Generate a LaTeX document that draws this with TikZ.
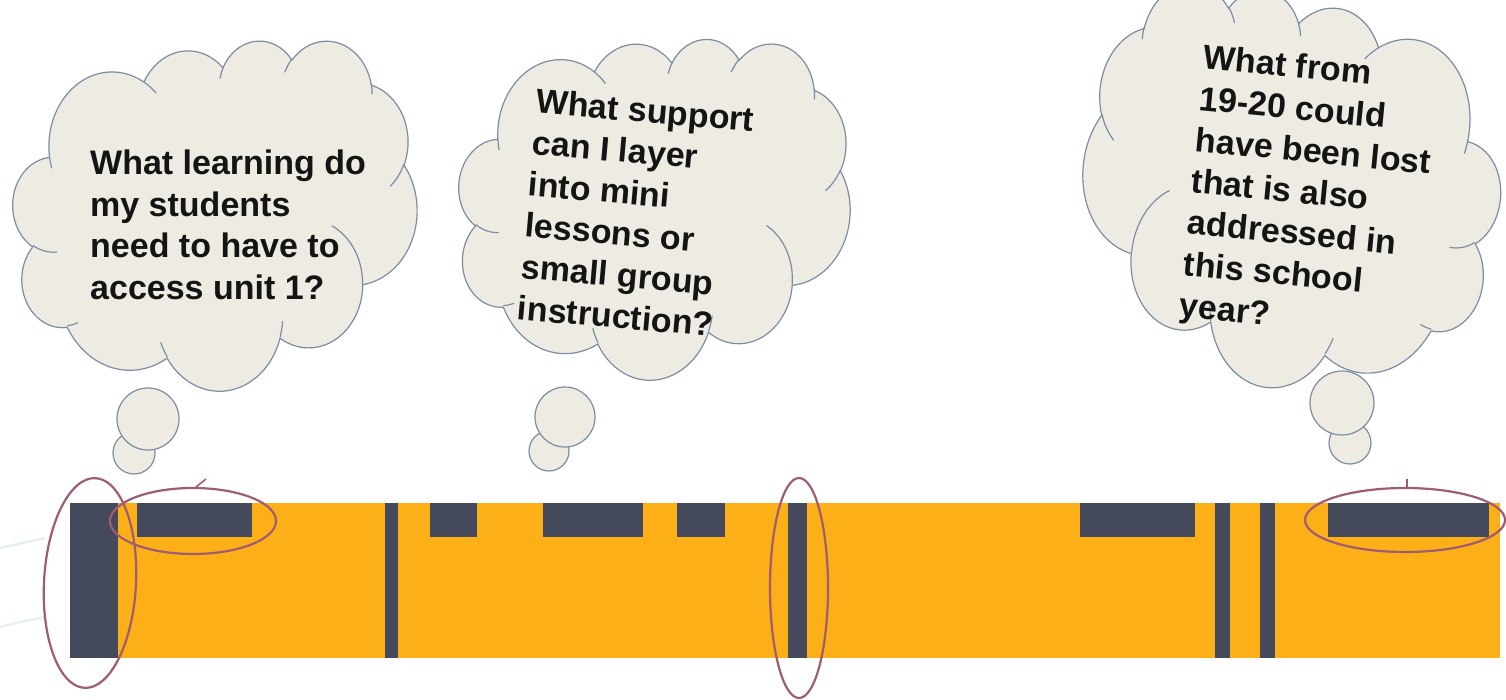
\documentclass[tikz,border=0pt]{standalone}
\usepackage{fontspec}
\setmainfont{Liberation Sans}
\definecolor{barorange}{RGB}{253,175,24}
\definecolor{bardark}{RGB}{68,73,92}
\definecolor{ringcol}{RGB}{160,92,112}
\definecolor{cloudfill}{RGB}{238,236,226}
\definecolor{cloudedge}{RGB}{124,140,164}
\definecolor{faint}{RGB}{230,239,243}
\tikzset{
  cloudsty/.style={fill=cloudfill, draw=cloudedge, line width=1.2pt, line join=round},
  cloudline/.style={draw=cloudedge, line width=1.2pt, line cap=round},
  bubble/.style={fill=cloudfill, draw=cloudedge, line width=1.2pt},
  qtext/.style={font=\fontsize{34}{41.5}\selectfont\bfseries, align=left, inner sep=0pt, text=black!92},
  darkblock/.style={fill=bardark},
  ring/.style={draw=ringcol, line width=2.2pt},
}
\newcommand\pptcloud[1]{%
  \begin{scope}[#1]
    \path[cloudsty] (9.028,33.264)
      arc[start angle=172.25, end angle=300.36, x radius=15.632, y radius=21.273]
      arc[start angle=-152.02, end angle=-45.45, x radius=12.345, y radius=16.822]
      arc[start angle=-153.50, end angle=-37.35, x radius=10.104, y radius=13.762]
      arc[start angle=-139.69, end angle=-10.21, x radius=11.243, y radius=15.266]
      arc[start angle=-74.77, end angle=23.21, x radius=12.345, y radius=16.836]
      arc[start angle=-37.51, end angle=81.86, x radius=15.683, y radius=21.343]
      arc[start angle=0.46, end angle=121.97, x radius=13.391, y radius=18.211]
      arc[start angle=16.84, end angle=146.23, x radius=15.630, y radius=21.331]
      arc[start angle=58.98, end angle=150.20, x radius=17.870, y radius=24.405]
      arc[start angle=83.31, end angle=223.11, x radius=10.093, y radius=13.699]
      arc[start angle=120.36, end angle=264.11, x radius=10.058, y radius=13.762]
      -- cycle;
    \path[cloudline]
      (10.863,60.595) arc[start angle=85.55, end angle=120.36, x radius=10.058, y radius=13.762]
      (16.037,80.785) arc[start angle=68.24, end angle=83.31, x radius=10.093, y radius=13.699]
      (38.144,90.486) arc[start angle=146.23, end angle=158.47, x radius=15.630, y radius=21.331]
      (66.729,80.442) arc[start angle=4.74, end angle=16.84, x radius=15.630, y radius=21.331]
      (79.002,53.134) arc[start angle=-64.03, end angle=0.46, x radius=13.391, y radius=18.211]
      (96.755,35.542) arc[start angle=23.21, end angle=49.66, x radius=12.345, y radius=16.836]
      (88.713,12.560) arc[start angle=-10.21, end angle=0.82, x radius=11.243, y radius=15.266]
      (67.310,9.148) arc[start angle=-156.29, end angle=-139.69, x radius=11.243, y radius=15.266]
      (51.252,10.926) arc[start angle=-167.73, end angle=-153.50, x radius=10.104, y radius=13.762]
      (32.407,12.019) arc[start angle=-59.64, end angle=-45.73, x radius=15.632, y radius=21.273]
      (9.553,36.549) arc[start angle=163.20, end angle=172.25, x radius=15.632, y radius=21.273];
  \end{scope}}
\begin{document}
\begin{tikzpicture}[x=1pt, y=-1pt]
  \useasboundingbox (0,0) rectangle (1506,700);
  \clip (0,0) rectangle (1506,700);
  \fill[white] (0,0) rectangle (1506,700);

  % faint background strokes at the far left
  \draw[faint, line width=2.5pt] (0,548) .. controls (15,545) and (30,541) .. (45,538);
  \draw[faint, line width=2.5pt] (0,627) .. controls (15,623) and (30,620) .. (45,617);

  % clouds
  \pptcloud{shift={(215,215)}, x=4.04pt, y=-3.5pt, shift={(-50,-50)}}
  \pptcloud{shift={(654,207)}, rotate=-4, x=3.92pt, y=-3.44pt, shift={(-50,-50)}}
  \pptcloud{shift={(1291,190)}, rotate=-5.5, x=-4.18pt, y=-3.95pt, shift={(-50,-50)}}

  % thought bubbles
  \draw[bubble] (134,453) circle[radius=21];
  \draw[bubble] (148,419) circle[radius=31];
  \draw[bubble] (549,451) circle[radius=20];
  \draw[bubble] (565,417) circle[radius=30];
  \draw[bubble] (1350,443) circle[radius=21];
  \draw[bubble] (1342,403) circle[radius=32];

  % texts
  \node[qtext, anchor=north west] (q1) at (90,150)
    {What learning do\\my students\\need to have to\\access unit 1?};
  \node[qtext, anchor=north west, rotate=-5] (q2) at (537,88)
    {What support\\can I layer\\into mini\\lessons or\\small group\\instruction?};
  \node[qtext, anchor=north west, rotate=-5.5] (q3) at (1205,44)
    {What from\\19-20 could\\have been lost\\that is also\\addressed in\\this school\\year?};

  % timeline bar
  \fill[barorange] (70,503) rectangle (1500,658);
  \fill[darkblock] (70,503) rectangle (118,658);
  \fill[darkblock] (137,503) rectangle (252,537);
  \fill[darkblock] (385,503) rectangle (398,658);
  \fill[darkblock] (430,503) rectangle (477,537);
  \fill[darkblock] (543,503) rectangle (643,537);
  \fill[darkblock] (677,503) rectangle (725,537);
  \fill[darkblock] (788,503) rectangle (807,658);
  \fill[darkblock] (1080,503) rectangle (1195,537);
  \fill[darkblock] (1215,503) rectangle (1230,658);
  \fill[darkblock] (1260,503) rectangle (1275,658);
  \fill[darkblock] (1328,503) rectangle (1489,537);

  % highlight rings
  \draw[ring, rotate around={-3:(90,583)}] (90,583) ellipse[x radius=46, y radius=105];
  \draw[ring] (193,521) ellipse[x radius=83, y radius=33];
  \draw[ring, line width=1.6pt] (196,487) -- (206,479);
  \draw[ring] (799,588) ellipse[x radius=29, y radius=110];
  \draw[ring] (1405,520) ellipse[x radius=100, y radius=32];
  \draw[ring, line width=1.6pt] (1407,488) -- (1407,479);
\end{tikzpicture}
\end{document}
